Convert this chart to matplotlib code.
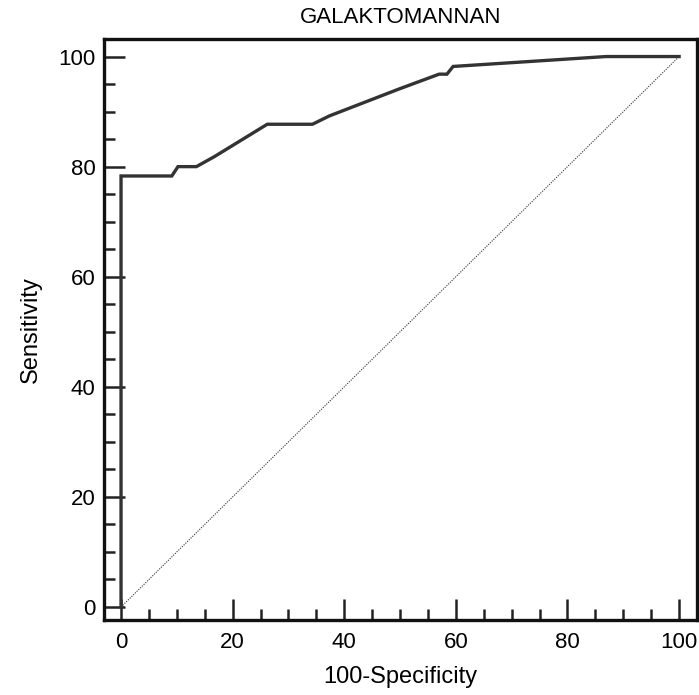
import matplotlib
matplotlib.use("Agg")
import matplotlib.pyplot as plt
from matplotlib.ticker import MultipleLocator

plt.rcParams['font.family'] = ['Liberation Sans', 'DejaVu Sans']

fpr = [0, 0, 9.1, 10.2, 13.5, 16.7, 26.2, 34.3, 37.3, 49.8, 57.0, 58.4, 59.5, 86.9, 100]
tpr = [0, 78.3, 78.3, 80.0, 80.0, 81.8, 87.7, 87.7, 89.2, 94.1, 96.8, 96.8, 98.2, 100, 100]
diag_x = [0, 100]
diag_y = [0, 100]
xticks = [0, 20, 40, 60, 80, 100]
yticks = [0, 20, 40, 60, 80, 100]

fig = plt.figure(figsize=(6.99, 6.95), dpi=100)
ax = fig.add_axes([0.1488, 0.1072, 0.8483, 0.8360])

ax.plot(diag_x, diag_y, color='#333333', linestyle=(0, (1, 1.2)), linewidth=0.8)
ax.plot(fpr, tpr, color='#333333', linewidth=2.4, solid_joinstyle='miter')

ax.set_xlim(-3.05, 103.2)
ax.set_ylim(-2.45, 103.1)
ax.set_xticks(xticks)
ax.set_yticks(yticks)
ax.xaxis.set_minor_locator(MultipleLocator(5))
ax.yaxis.set_minor_locator(MultipleLocator(5))
ax.tick_params(which='major', direction='in', length=15, width=1.8, color='#222222', labelsize=16, pad=6)
ax.tick_params(axis='x', which='major', pad=8)
ax.tick_params(which='minor', direction='in', length=8, width=1.8, color='#222222')
for s in ax.spines.values():
    s.set_linewidth(2.4)
    s.set_color('#111111')

ax.set_title('GALAKTOMANNAN', fontsize=16, pad=12)
ax.set_xlabel('100-Specificity', fontsize=17, labelpad=10)
ax.set_ylabel('Sensitivity', fontsize=17, labelpad=12)

fig.savefig('out.png', dpi=100)
